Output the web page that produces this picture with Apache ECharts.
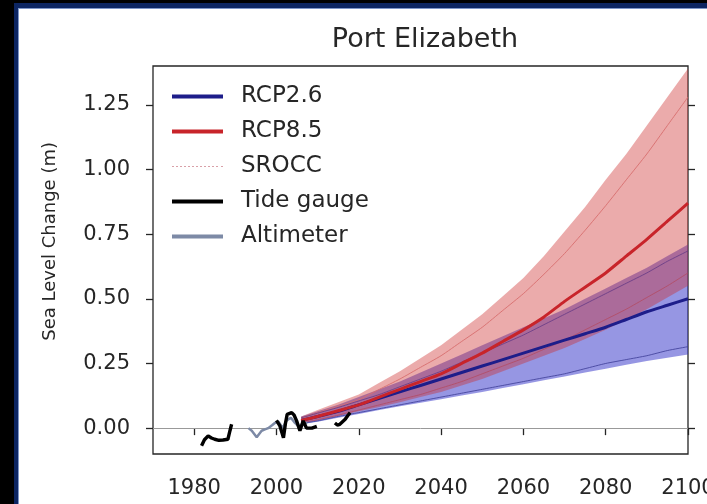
<!DOCTYPE html>
<html lang="en">
<head>
<meta charset="UTF-8">
<title>Port Elizabeth</title>
<script src="https://cdn.jsdelivr.net/npm/echarts@6/dist/echarts.min.js"></script>
<style>
    body { margin: 0; background: #000; }
    #page { position: relative; width: 707px; height: 504px; background: #000; overflow: hidden; }
    #frame {
        position: absolute; left: 14px; top: 3px; width: 700px; height: 510px;
        background: #fff; border-left: 4px solid #0c2562; border-top: 5px solid #0c2562;
        box-shadow: inset 1px 1px 0 #7d95c8;
    }
    #main { position: absolute; left: 0; top: 0; width: 707px; height: 504px; }
</style>
</head>
<body>
<div id="page">
    <div id="frame"></div>
    <div id="main"></div>
</div>
<script>
// projection years
var years = [2006, 2010, 2015, 2020, 2025, 2030, 2035, 2040, 2045, 2050, 2055, 2060, 2065, 2070, 2075, 2080, 2085, 2090, 2095, 2100];

var rcp26Mid = [0.03, 0.045, 0.065, 0.09, 0.115, 0.14, 0.165, 0.19, 0.215, 0.24, 0.265, 0.29, 0.315, 0.34, 0.365, 0.39, 0.42, 0.45, 0.475, 0.50];
var rcp26Lo  = [0.015, 0.025, 0.04, 0.055, 0.07, 0.085, 0.098, 0.112, 0.126, 0.14, 0.155, 0.17, 0.185, 0.20, 0.215, 0.23, 0.245, 0.26, 0.272, 0.285];
var rcp26Hi  = [0.045, 0.065, 0.09, 0.12, 0.15, 0.18, 0.215, 0.25, 0.285, 0.32, 0.355, 0.39, 0.425, 0.46, 0.50, 0.54, 0.58, 0.62, 0.665, 0.71];

var rcp85Mid = [0.03, 0.045, 0.067, 0.09, 0.12, 0.15, 0.18, 0.21, 0.25, 0.29, 0.335, 0.38, 0.43, 0.49, 0.545, 0.60, 0.665, 0.73, 0.80, 0.87];
var rcp85Lo  = [0.02, 0.03, 0.047, 0.065, 0.082, 0.10, 0.12, 0.14, 0.165, 0.19, 0.22, 0.25, 0.28, 0.31, 0.345, 0.38, 0.42, 0.46, 0.505, 0.55];
var rcp85Hi  = [0.045, 0.07, 0.10, 0.13, 0.175, 0.22, 0.27, 0.32, 0.38, 0.44, 0.51, 0.58, 0.665, 0.76, 0.855, 0.96, 1.06, 1.17, 1.28, 1.39];

// SROCC range lines
var srocc85Hi = [0.04, 0.06, 0.085, 0.11, 0.15, 0.19, 0.235, 0.28, 0.335, 0.39, 0.455, 0.52, 0.595, 0.675, 0.765, 0.86, 0.96, 1.06, 1.17, 1.28];
var srocc85Lo = [0.02, 0.032, 0.05, 0.07, 0.09, 0.11, 0.13, 0.155, 0.18, 0.21, 0.24, 0.27, 0.305, 0.34, 0.38, 0.42, 0.46, 0.505, 0.55, 0.60];
var srocc26Hi = [0.04, 0.058, 0.08, 0.105, 0.13, 0.16, 0.19, 0.22, 0.255, 0.29, 0.325, 0.36, 0.40, 0.44, 0.48, 0.52, 0.56, 0.60, 0.645, 0.685];
var srocc26Lo = [0.018, 0.028, 0.045, 0.06, 0.075, 0.09, 0.105, 0.12, 0.135, 0.15, 0.165, 0.18, 0.195, 0.21, 0.23, 0.25, 0.265, 0.28, 0.30, 0.315];

// observations [year, m]
var tide1 = [[1981.8, -0.068], [1982.5, -0.045], [1983.4, -0.03], [1984.2, -0.038], [1985, -0.043], [1986, -0.047], [1987, -0.046], [1988.2, -0.043], [1988.7, -0.01], [1989.1, 0.015]];
var tide2 = [[2000, 0.03], [2000.8, 0.01], [2001.7, -0.037], [2002.2, 0.02], [2002.6, 0.053], [2003.7, 0.06], [2004.3, 0.05], [2004.9, 0.028], [2005.7, -0.01], [2006.5, 0.028], [2007.3, 0.0], [2008.6, 0.0], [2009.8, 0.007]];
var tide3 = [[2014.2, 0.02], [2014.8, 0.012], [2015.4, 0.015], [2016.7, 0.034], [2017.4, 0.05], [2017.9, 0.06]];
var altimeter = [[1993.2, 0.0], [1994, -0.01], [1995.2, -0.035], [1996.4, -0.01], [1997.2, -0.005], [1998, 0.0], [1999, 0.012], [1999.6, 0.02], [2000.5, 0.025], [2001.5, 0.0], [2002.5, 0.03], [2003.5, 0.04], [2004.5, 0.02], [2005.5, 0.005], [2006.5, 0.02], [2007.5, 0.02]];

var xTicks = [1980, 2000, 2020, 2040, 2060, 2080, 2100];
var yTicks = [0, 0.25, 0.5, 0.75, 1.0, 1.25];

var font = 'DejaVu Sans';
var ink = '#262626';

function pairs(vals) {
    return years.map(function (y, i) { return [y, vals[i]]; });
}

// shaded range between lo and hi, drawn as one polygon through the axes
function band(name, lo, hi, color) {
    return {
        name: name, type: 'custom', silent: true, z: 1, clip: true,
        data: pairs(hi),
        renderItem: function (params, api) {
            if (params.dataIndexInside > 0) return;
            var pts = [];
            for (var i = 0; i < years.length; i++) pts.push(api.coord([years[i], hi[i]]));
            for (var j = years.length - 1; j >= 0; j--) pts.push(api.coord([years[j], lo[j]]));
            return { type: 'polygon', shape: { points: pts, smooth: 0 }, style: { fill: color } };
        }
    };
}

function line(name, data, color, width, extra) {
    var s = {
        name: name, type: 'line', data: data, symbol: 'none', smooth: 0.2,
        lineStyle: { color: color, width: width }, itemStyle: { color: color }, z: 3
    };
    for (var k in extra) s[k] = extra[k];
    return s;
}

var myChart = echarts.init(document.getElementById('main'));

var series = [
    band('b26', rcp26Lo, rcp26Hi, 'rgba(45,45,200,0.5)'),
    band('b85', rcp85Lo, rcp85Hi, 'rgba(205,45,45,0.4)'),
    line('SROCC', pairs(srocc85Hi), 'rgba(215,110,110,0.9)', 1, {}),
    line('SROCC', pairs(srocc85Lo), 'rgba(180,70,90,0.7)', 1, {}),
    line('SROCC', pairs(srocc26Hi), 'rgba(90,50,130,0.7)', 1, {}),
    line('SROCC', pairs(srocc26Lo), 'rgba(60,60,150,0.8)', 1, {}),
    line('RCP2.6', pairs(rcp26Mid), '#1d1d8a', 3, { z: 4 }),
    line('RCP8.5', pairs(rcp85Mid), '#c8242a', 3, { z: 4 }),
    line('Altimeter', altimeter, '#7d8aa6', 2.5, { smooth: false, z: 5 }),
    line('Tide gauge', tide1, '#000', 3.4, { smooth: false, z: 6,
        markLine: { silent: true, symbol: 'none', label: { show: false },
            lineStyle: { color: '#999', width: 1, type: 'solid' }, data: [{ yAxis: 0 }] } }),
    line('Tide gauge', tide2, '#000', 3.4, { smooth: false, z: 6 }),
    line('Tide gauge', tide3, '#000', 3.4, { smooth: false, z: 6 })
];

var solidIcon = 'path://M0,0H51V4H0Z';
var dotIcon = 'path://M0,0H2V1H0ZM4,0H6V1H4ZM8,0H10V1H8ZM12,0H14V1H12ZM16,0H18V1H16ZM20,0H22V1H20ZM24,0H26V1H24ZM28,0H30V1H28ZM32,0H34V1H32ZM36,0H38V1H36ZM40,0H42V1H40ZM44,0H46V1H44ZM49,0H51V1H49Z';

var tickStyle = { show: true, inside: false, length: 7, lineStyle: { color: ink, width: 1.3 } };

var option = {
    backgroundColor: 'transparent',
    animation: false,
    title: {
        text: 'Port Elizabeth', left: 420, top: 21, textAlign: 'center',
        textStyle: { fontFamily: font, fontSize: 27, fontWeight: 'normal', color: ink }
    },
    graphic: [{
        type: 'text', left: 41, top: 142, rotation: Math.PI / 2,
        style: { text: 'Sea Level Change (m)', fontFamily: font, fontSize: 18, fill: ink }
    }],
    legend: {
        orient: 'vertical', left: 167, top: 80, itemWidth: 51, itemHeight: 14, itemGap: 12,
        data: [
            { name: 'RCP2.6', icon: solidIcon },
            { name: 'RCP8.5', icon: solidIcon },
            { name: 'SROCC', icon: dotIcon, itemStyle: { color: '#d9a0a8' } },
            { name: 'Tide gauge', icon: solidIcon },
            { name: 'Altimeter', icon: solidIcon }
        ],
        textStyle: { fontFamily: font, fontSize: 23, color: ink, padding: [0, 0, 0, 13] }
    },
    grid: {
        left: 153, top: 66, right: 19, bottom: 50, outerBoundsMode: 'none', containLabel: false,
        show: true, borderColor: ink, borderWidth: 1.3, backgroundColor: 'transparent'
    },
    xAxis: {
        type: 'value', min: 1970, max: 2100,
        axisLine: { show: false }, splitLine: { show: false },
        axisTick: Object.assign({ customValues: xTicks }, tickStyle),
        axisLabel: { customValues: xTicks, margin: 24, fontFamily: font, fontSize: 21, color: ink,
            formatter: function (v) { return String(v); } }
    },
    yAxis: [{
        type: 'value', min: -0.1, max: 1.4,
        axisLine: { show: false }, splitLine: { show: false },
        axisTick: Object.assign({ customValues: yTicks }, tickStyle),
        axisLabel: { customValues: yTicks, margin: 23, fontFamily: font, fontSize: 21, color: ink,
            formatter: function (v) { return v.toFixed(2); } }
    }, {
        type: 'value', min: -0.1, max: 1.4, position: 'right',
        axisLine: { show: false }, splitLine: { show: false },
        axisTick: Object.assign({ customValues: yTicks }, tickStyle),
        axisLabel: { show: false }
    }],
    series: series
};

myChart.setOption(option);
</script>
</body>
</html>
